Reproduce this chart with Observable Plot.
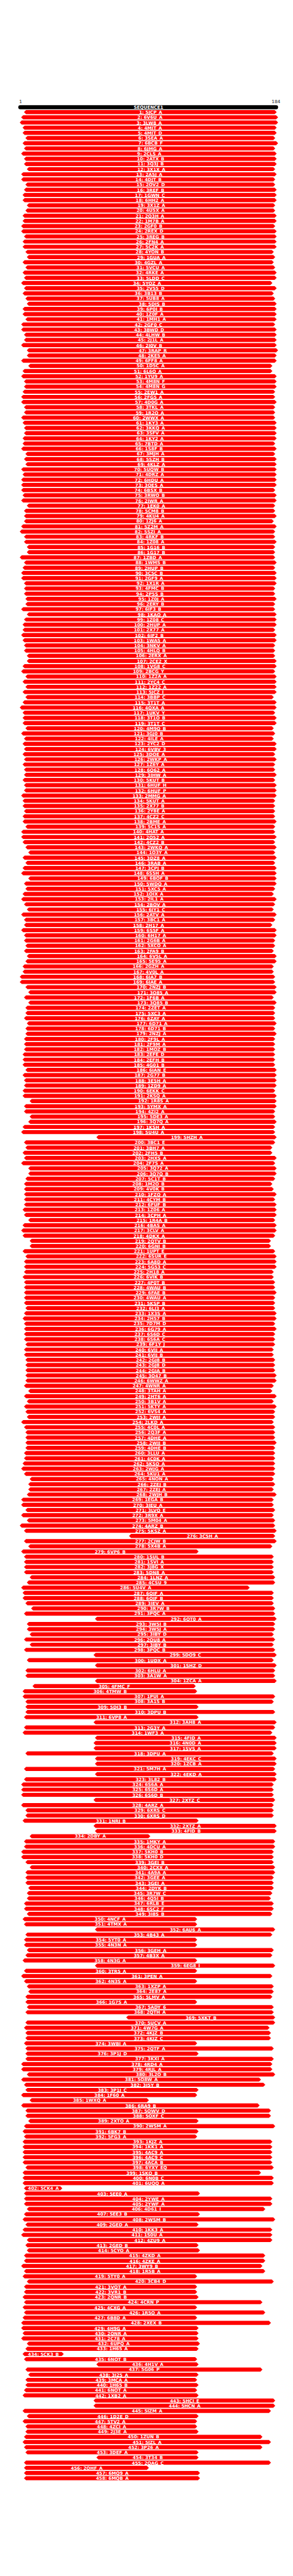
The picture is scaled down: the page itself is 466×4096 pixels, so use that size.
<!DOCTYPE html>
<html>
<head>
<meta charset="utf-8">
<script src="https://cdn.jsdelivr.net/npm/d3@7"></script>
<script src="https://cdn.jsdelivr.net/npm/@observablehq/plot@0.6"></script>
<style>
  html, body { margin: 0; padding: 0; background: #ffffff; }
  #chart svg { display: block; }
</style>
</head>
<body>
<div id="chart"></div>
<script>
// Query sequence
const queryName = "SEQUENCE1";
const queryStart = 1;
const queryEnd = 184;
const axisTicks = ["1", "184"];

// Hit identifiers (row order, top to bottom)
const hitIds = [
"5JCP_A","6V6U_A","3LW8_A","4MIT_A","4MIT_D","3SEA_A","6BCB_F","6JMG_A","2CLS_A","2ATX_B",
"3Q3J_B","3X1X_A","2A5J_A","4DJT_B","2OV2_D","3REF_B","1GWN_C","6HH2_A","3X1Z_A","4U5X_A",
"2Q3H_A","1M7B_A","2GF0_B","2REX_D","3REG_B","2FN4_A","5C2K_A","4YON_B","1GUA_A","4GZL_A",
"5VCU_A","4RKE_A","5LDD_C","5YOZ_A","2V55_D","3B13_B","5UB8_A","5DIS_B","6P0I_B","1Z0F_A",
"1MH1_A","2GF0_C","3BWD_D","4LHW_B","2J1L_A","2J0V_B","3RAP_R","2KE5_A","6FF8_A","1D5C_A",
"6L6O_A","1YU9_A","4M8N_F","4M8N_G","2EW1_A","2FG5_A","4D0G_A","3TKL_A","1R2Q_A","2WWX_A",
"1KY3_A","3KKQ_A","3SFV_A","1KY2_A","7BTD_A","1S8F_B","3MJH_A","5SZH_B","4KLZ_A","5UQW_B",
"4DRZ_A","6HDU_A","3OES_A","6BSX_B","3RWO_B","2IWR_A","1EK0_A","5CM8_B","4KU4_A","1ZJ6_A",
"5Z2M_A","5SZI_A","4RKF_B","1Z08_A","1G16_B","1G17_B","1ZBD_A","1WMS_B","2HUP_B","3C5C_B",
"2GF9_A","1X1R_A","4FMC_B","2P5S_B","1Z0J_A","2ERY_B","6IF3_B","1KAO_A","1Z08_C","2HUP_A",
"2X77_A","6IF2_B","1WA5_A","3NKV_A","4HLQ_B","2ERX_A","2CE2_X","1VG8_C","2BCG_Y","1Z2A_A",
"2YC4_C","1Z22_A","5JCZ_I","3BBP_C","3T1T_A","4QXA_A","1UKV_Y","3T1O_B","3T1T_C","4M9Q_B",
"3GJ0_B","4ILE_A","2YC2_D","6VBV_3","3DOE_A","2WKP_A","1Z6Y_A","6O62_A","3IHW_A","5KUT_B",
"6HUF_H","6HUF_P","2MMG_A","5KUT_A","2X77_B","2Y8E_A","4CZ2_C","2BME_A","5C1S_A","4HAT_A",
"2O52_A","4CZ2_B","2WKQ_A","1O3Y_A","3DZ8_A","3RAB_A","3CPJ_B","6S5H_A","6BOF_B","5WDQ_A",
"5XC5_A","1OIX_A","2IL1_A","2BOV_A","6IY1_C","2ATV_A","3BC1_A","2H17_A","6S5F_A","6H17_A",
"2G6B_A","5XCO_A","2FA9_B","6V5L_A","5E95_A","2GZH_A","4V0L_A","6IA7_B","6IAE_A","2NZJ_B",
"3Q85_A","1F6B_A","3Q85_B","2ZET_A","5XC3_A","6ZAY_A","6D71_A","6D71_B","2NZJ_A","2F9L_A",
"2F9M_A","1MOZ_B","2EFE_D","2EFH_B","4G01_B","6IAN_E","2G77_B","3E5H_A","1ZD9_A","6EKK_C",
"2KSQ_A","1R8S_A","5YMX_A","4ZI2_A","5DE3_A","3Q7Q_A","1KSH_A","5U4U_A","5HZH_A","3BC1_E",
"3BH7_A","2FH5_B","2HXS_A","2F7S_A","3Q72_A","3Q7Q_B","5C1T_B","1M2O_B","4V0K_B","1FZQ_A",
"4CYM_B","6FUF_B","1Z06_A","3CPH_A","1R4A_B","4BAS_A","3CLV_A","4DKX_A","2QTV_B","6GNI_B",
"1UPT_E","6SUR_E","6A8D_A","5G53_C","2H18_A","6VIK_B","4P0T_B","4WAU_B","6FAE_B","4WAU_A",
"5KSP_B","6LI3_A","1X3S_A","2H57_B","7D7M_D","6G79_A","6S6D_C","6S6A_C","6F1Y_J","6VIJ_A",
"6VIJ_B","2GJ8_B","2GJ8_D","2GJA_B","3O47_B","6WWZ_A","4WNR_A","3TAH_A","2HT6_A","3B1V_A",
"5KTY_A","6VS4_A","2WJI_A","2LKD_A","4C0L_A","2Q3F_A","4DHE_A","2WJJ_B","4DHE_B","3LLU_A",
"4C0K_A","5KSO_A","2WJG_A","5KU1_A","4NON_A","2ZEJ_B","2ZEJ_A","2WJH_B","1EGA_B","3IEU_A",
"3LVQ_E","3R9X_A","5M04_A","4ARZ_B","5KSZ_A","3C5H_A","2CJW_B","5X4B_A","6VP6_B","1SUL_B",
"1SVI_A","3J8G_X","5DN8_A","1LNZ_A","4CSU_9","5U4V_A","6OJF_A","6OJF_B","3IEV_A","3R7W_B",
"3PQC_A","6OT0_A","3W5I_B","3W5J_A","3IBY_D","2QU8_A","3IBY_B","3PQC_B","5DO9_C","1UDX_A",
"1SHZ_D","6HLU_A","3A1W_A","1ZCA_A","4FMC_F","4TMW_B","1PUI_A","3A1S_B","5DI3_B","3DPU_B",
"6VP8_A","3AH8_A","2G3Y_A","1WF3_A","4FID_A","4N0D_A","1SVS_A","3DPU_A","4EKC_C","1ZCB_A",
"5M7H_A","4EKD_A","3L82_B","6S6A_A","6S6D_A","6S6D_B","2XTZ_C","4ARZ_A","6XRS_C","6XRS_D",
"1NRJ_B","2XTZ_A","4FID_B","2DBY_A","1MKY_A","4DCU_A","5KH0_B","5KH0_D","3GEI_B","2CXX_A",
"4A9A_A","3GEE_A","3GEI_A","2DYK_B","3R7W_C","4Q5I_B","6RLB_E","6SC2_F","3I8S_B","4NCF_A",
"4TMX_A","6AU6_A","4B43_A","5YT0_A","4N3N_A","3GEH_A","4B3X_A","4N3G_A","6EG8_I","3TR5_A",
"3PEN_A","4N3S_A","1XZP_A","2E87_A","5LMV_A","1G7S_A","5ADY_6","2QTH_A","5XKT_B","5UCV_A",
"4W7G_A","4KJZ_B","4KJZ_C","3WBI_A","2QTF_A","3P1J_D","3KXI_A","4RD4_A","4RJL_A","3L2O_B",
"5O8W_A","3J5Y_B","3P1J_C","1F60_A","1WXQ_A","6RA9_B","5OWV_D","5OXF_C","2XTO_A","2WSM_A",
"6BK7_B","5FG3_A","1KJZ_A","1KK1_A","4AC9_A","4AC9_C","4ACA_B","6YXY_EQ","1SKQ_B","6N0B_C",
"6UQQ_A","5CK4_A","5EE0_A","2YWE_A","2YWF_A","4D61_I","5EE3_B","2WSM_B","2GED_A","1KK3_A",
"1S0U_A","4ZU9_A","2GED_B","5CYO_A","4ZKD_A","4ZKE_A","3WY9_B","1R5B_A","5TY0_A","3CB4_D",
"3VQT_A","3VR1_B","2QNR_B","4CRN_P","4CXG_A","1R5O_A","6B8D_A","2XEX_B","4H9G_A","2QNR_A",
"2C78_A","6UPQ_A","1H65_A","5CK3_B","6NOT_B","4H1V_A","5G06_P","3J25_A","3MCA_A","1H65_B",
"6NOT_A","1XB2_A","5HCI_E","5HCN_A","5IZM_A","1D2E_D","5TV2_A","4ZCI_A","2J3E_A","1ZUN_B",
"5IZL_A","3P26_A","3DEF_A","3T34_B","2QAG_C","2OHF_A","6MQ9_A","6MQB_A"
];

// Alignment start on the query (residue)
const hitStart = [
5,3,2,4,4,6,4,5,3,5, 5,7,3,3,6,5,4,4,7,6, 4,4,3,3,5,4,4,6,7,4, 6,4,5,3,5,4,6,7,4,4,
6,3,3,5,5,3,7,7,3,8, 4,3,5,5,4,3,3,5,5,3, 4,5,5,4,4,3,6,5,6,3, 4,3,3,3,4,3,7,5,5,5,
3,2,5,5,7,7,2,5,4,3, 3,5,5,5,6,6,3,7,5,4, 4,3,4,5,5,7,7,4,3,6, 4,6,4,6,4,2,4,4,4,6,
3,5,4,5,4,5,4,5,5,4, 5,5,3,4,4,5,4,4,6,3, 3,4,6,8,4,6,4,3,8,5, 6,4,3,5,7,3,5,5,3,5,
5,6,5,7,6,4,4,2,2,6, 8,5,8,6,6,5,7,6,6,5, 5,5,4,4,4,6,4,5,5,4, 4,9,5,5,9,8,4,3,56,5,
6,4,5,3,8,8,6,5,5,5, 5,5,4,5,8,4,3,4,9,9, 4,6,5,5,5,4,5,5,5,5, 5,6,5,4,5,5,5,5,6,5,
5,6,6,6,6,6,5,8,5,7, 5,6,7,3,5,6,6,6,6,5, 5,4,3,5,9,8,8,7,3,3, 6,3,7,2,5,79,5,8,3,5,
5,5,5,9,7,3,4,4,6,10, 5,55,7,7,9,5,9,5,54,7, 55,6,6,55,11,4,4,6,6,6, 5,54,5,4,55,54,54,6,55,55,
5,55,5,3,3,3,54,3,6,6, 4,54,55,9,5,5,3,3,6,9, 6,6,6,8,7,7,5,5,7,4, 5,55,6,5,5,7,6,4,55,5,
3,5,7,8,6,6,7,6,77,6, 5,6,6,5,6,6,6,3,3,7, 3,5,6,3,9,3,6,6,8,5, 4,5,4,4,4,4,4,6,4,4,
4,5,5,5,5,7,5,4,6,4, 3,7,6,7,5,5,3,5,4,7, 5,5,4,5,4,5,4,3,3,4, 3,7,6,4,5,56,6,8,6,6,
5,4,54,54,4,7,4,6,6,5, 4,5,6,56,5,5,5,5
];

// Alignment end on the query (residue)
const hitEnd = [
183,184,184,183,183,182,184,182,183,183, 183,182,183,182,182,183,183,183,182,182,
183,183,182,183,183,183,183,181,182,181, 182,183,183,180,183,181,182,183,183,183,
183,182,183,183,183,183,184,183,183,180, 180,183,183,183,182,182,183,182,182,182,
183,183,183,183,182,183,182,183,183,183, 183,183,183,182,183,183,182,182,183,181,
183,182,182,183,182,182,182,183,182,183, 183,183,182,182,183,182,182,183,183,183,
182,183,183,182,182,182,183,183,182,183, 183,183,183,181,183,183,182,183,183,181,
182,181,183,183,182,183,182,182,183,182, 183,183,183,182,182,182,182,183,182,182,
183,182,183,182,183,182,183,183,183,183, 182,181,183,182,181,183,182,180,183,183,
182,182,181,183,183,181,181,182,182,183, 183,181,183,182,182,182,183,182,183,182,
182,182,182,182,182,183,183,183,183,182, 183,183,183,182,182,183,182,182,183,182,
180,180,183,182,183,183,182,180,181,183, 182,183,183,183,182,183,183,182,179,179,
182,183,183,183,181,181,182,182,183,182, 182,182,183,183,182,183,182,182,182,181,
181,182,182,182,183,183,181,180,183,181, 183,182,182,181,182,182,182,183,182,182,
182,182,182,182,181,182,181,183,181,181, 182,181,182,182,183,182,183,180,128,181,
181,181,181,182,182,164,181,181,181,182, 182,183,182,182,181,182,181,182,183,181,
183,182,182,183,126,127,182,181,128,182, 128,183,182,180,183,183,183,181,183,183,
182,183,183,181,181,181,182,181,181,181, 128,183,183,94,182,182,181,181,181,182,
182,181,181,181,180,179,181,181,180,127, 127,182,180,127,127,181,180,127,182,127,
180,127,181,181,180,127,181,181,182,182, 178,179,179,127,181,128,181,180,180,182,
172,175,128,127,93,171,179,179,128,182, 128,127,180,180,180,180,180,181,172,181,
181,32,129,180,180,175,129,182,128,180, 180,180,128,129,175,175,173,175,127,181,
127,127,128,173,127,175,127,179,128,128, 128,129,128,33,127,128,173,128,127,128,
127,128,182,182,179,128,127,127,128,173, 179,173,128,128,179,93,129,129
];

const hits = hitIds.map((id, i) => ({
  row: i + 1,
  id,
  s: hitStart[i],
  e: hitEnd[i],
  label: `${i + 1}: ${id}`
}));

// Geometry (pixels at the rendered size)
const W = 466, H = 4096;
const xRange = [29.1, 442.3];
const yRange = [170.1, 170.1 + hits.length * 8.2324];
const pxPerRes = (xRange[1] - xRange[0]) / (queryEnd - queryStart);
const pxPerRow = (yRange[1] - yRange[0]) / hits.length;
const halfH = 3.23;                 // half bar thickness (px)
const hRow = halfH / pxPerRow;       // in row units
const dRes = halfH / pxPerRes;       // chevron depth in residue units

// Build hexagon outlines (pointed at both ends) for each hit
const shapes = [];
for (const h of hits) {
  shapes.push({z: h.row, x: h.s, y1: h.row, y2: h.row});
  shapes.push({z: h.row, x: h.s + dRes, y1: h.row - hRow, y2: h.row + hRow});
  shapes.push({z: h.row, x: h.e - dRes, y1: h.row - hRow, y2: h.row + hRow});
  shapes.push({z: h.row, x: h.e, y1: h.row, y2: h.row});
}

const chart = Plot.plot({
  width: W,
  height: H,
  margin: 0,
  style: {background: "#ffffff"},
  x: {domain: [queryStart, queryEnd], range: xRange, axis: null},
  y: {domain: [0, hits.length], range: yRange, axis: null},
  marks: [
    // hit bars
    Plot.areaY(shapes, {x: "x", y1: "y1", y2: "y2", z: "z", fill: "#ff0000"}),
    // query bar (rounded ends)
    Plot.ruleY([0], {
      x1: queryStart + dRes, x2: queryEnd - dRes,
      stroke: "#000000", strokeWidth: 2 * halfH, strokeLinecap: "round"
    }),
    Plot.text([queryName], {
      x: (queryStart + queryEnd) / 2, y: 0, text: d => d,
      fill: "#ffffff", fontWeight: "bold", fontSize: 7, fontFamily: "DejaVu Sans"
    }),
    // axis end labels
    Plot.text([axisTicks[0]], {
      x: queryStart, y: 0, text: d => d, textAnchor: "start", lineAnchor: "bottom",
      dx: 1, dy: -7, fill: "#222222", fontSize: 7.2, fontFamily: "DejaVu Sans"
    }),
    Plot.text([axisTicks[1]], {
      x: queryEnd, y: 0, text: d => d, textAnchor: "end", lineAnchor: "bottom",
      dx: 3, dy: -7, fill: "#222222", fontSize: 7.2, fontFamily: "DejaVu Sans"
    }),
    // hit labels
    Plot.text(hits, {
      x: d => (d.s + d.e) / 2, y: "row", text: "label",
      fill: "#ffffff", fontWeight: "bold", fontSize: 7, fontFamily: "DejaVu Sans"
    })
  ]
});
document.getElementById("chart").appendChild(chart);
</script>
</body>
</html>
